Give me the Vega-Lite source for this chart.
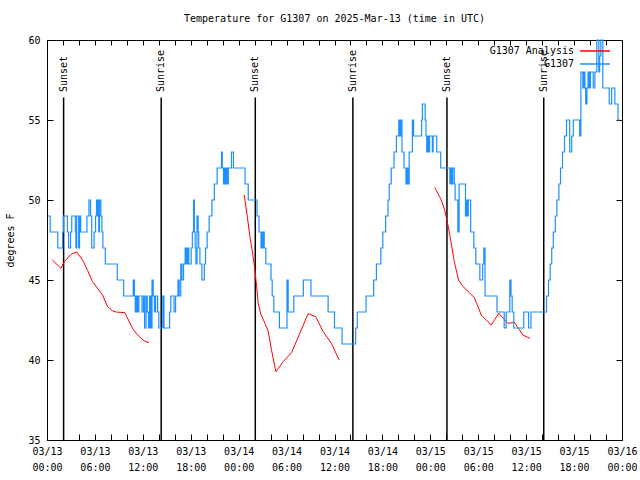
{
  "$schema": "https://vega.github.io/schema/vega-lite/v6.json",
  "width": 575,
  "height": 400,
  "autosize": {"type": "none"},
  "padding": {"left": 47, "top": 40, "right": 18, "bottom": 40},
  "background": "white",
  "title": {"text": "Temperature for G1307 on 2025-Mar-13 (time in UTC)", "font": "DejaVu Sans Mono", "fontSize": 10, "fontWeight": "normal", "offset": 11, "color": "black"},
  "config": {"view": {"stroke": "black", "strokeWidth": 1}, "font": "DejaVu Sans Mono"},
  "datasets": {
    "events": [
      {"h": 2.08, "label": "Sunset"},
      {"h": 14.3, "label": "Sunrise"},
      {"h": 26.08, "label": "Sunset"},
      {"h": 38.3, "label": "Sunrise"},
      {"h": 50.08, "label": "Sunset"},
      {"h": 62.2, "label": "Sunrise"}
    ],
    "analysis": [
      {"h": 0.67, "v": 46.25, "seg": 1}, {"h": 1.75, "v": 45.73, "seg": 1}, {"h": 2.17, "v": 46.15, "seg": 1}, {"h": 3.0, "v": 46.6, "seg": 1}, {"h": 3.71, "v": 46.75, "seg": 1}, {"h": 4.46, "v": 46.25, "seg": 1}, {"h": 5.08, "v": 45.6, "seg": 1}, {"h": 5.7, "v": 44.9, "seg": 1}, {"h": 6.33, "v": 44.48, "seg": 1}, {"h": 6.96, "v": 44.06, "seg": 1}, {"h": 7.58, "v": 43.33, "seg": 1}, {"h": 8.2, "v": 43.08, "seg": 1}, {"h": 8.62, "v": 43.0, "seg": 1}, {"h": 9.75, "v": 42.96, "seg": 1}, {"h": 10.29, "v": 42.4, "seg": 1}, {"h": 10.83, "v": 41.87, "seg": 1}, {"h": 11.54, "v": 41.46, "seg": 1}, {"h": 12.17, "v": 41.2, "seg": 1}, {"h": 12.79, "v": 41.08, "seg": 1},
      {"h": 24.7, "v": 50.31, "seg": 2}, {"h": 25.08, "v": 48.96, "seg": 2}, {"h": 25.41, "v": 47.7, "seg": 2}, {"h": 25.75, "v": 46.67, "seg": 2}, {"h": 26.04, "v": 45.6, "seg": 2}, {"h": 26.25, "v": 44.6, "seg": 2}, {"h": 26.45, "v": 43.54, "seg": 2}, {"h": 26.75, "v": 42.9, "seg": 2}, {"h": 27.3, "v": 42.29, "seg": 2}, {"h": 27.7, "v": 41.8, "seg": 2}, {"h": 28.12, "v": 40.6, "seg": 2}, {"h": 28.66, "v": 39.27, "seg": 2}, {"h": 29.58, "v": 39.9, "seg": 2}, {"h": 30.62, "v": 40.46, "seg": 2}, {"h": 31.66, "v": 41.67, "seg": 2}, {"h": 32.7, "v": 42.9, "seg": 2}, {"h": 33.66, "v": 42.7, "seg": 2}, {"h": 34.58, "v": 41.77, "seg": 2}, {"h": 35.62, "v": 41.04, "seg": 2}, {"h": 36.58, "v": 40.0, "seg": 2},
      {"h": 48.54, "v": 50.79, "seg": 3}, {"h": 49.29, "v": 50.1, "seg": 3}, {"h": 49.79, "v": 49.38, "seg": 3}, {"h": 50.12, "v": 48.65, "seg": 3}, {"h": 50.62, "v": 47.29, "seg": 3}, {"h": 51.04, "v": 46.04, "seg": 3}, {"h": 51.54, "v": 45.0, "seg": 3}, {"h": 52.08, "v": 44.6, "seg": 3}, {"h": 52.91, "v": 44.2, "seg": 3}, {"h": 53.5, "v": 43.9, "seg": 3}, {"h": 54.08, "v": 43.2, "seg": 3}, {"h": 54.37, "v": 42.81, "seg": 3}, {"h": 55.62, "v": 42.19, "seg": 3}, {"h": 56.58, "v": 42.92, "seg": 3}, {"h": 57.7, "v": 42.29, "seg": 3}, {"h": 58.54, "v": 42.35, "seg": 3}, {"h": 59.58, "v": 41.56, "seg": 3}, {"h": 60.5, "v": 41.35, "seg": 3}
    ],
    "obs": [
      {"h": 0.1, "v": 49}, {"h": 0.4, "v": 48}, {"h": 1.35, "v": 47}, {"h": 1.95, "v": 48}, {"h": 2.05, "v": 49}, {"h": 2.55, "v": 48}, {"h": 2.7, "v": 47}, {"h": 2.95, "v": 48}, {"h": 3.1, "v": 49}, {"h": 3.55, "v": 48}, {"h": 3.62, "v": 47}, {"h": 3.72, "v": 49}, {"h": 3.97, "v": 47}, {"h": 4.07, "v": 49}, {"h": 4.22, "v": 48}, {"h": 5.0, "v": 49}, {"h": 5.25, "v": 50}, {"h": 5.45, "v": 49}, {"h": 5.6, "v": 47}, {"h": 5.9, "v": 48}, {"h": 6.08, "v": 49}, {"h": 6.2, "v": 50}, {"h": 6.3, "v": 49}, {"h": 6.38, "v": 50}, {"h": 6.48, "v": 48}, {"h": 6.58, "v": 50}, {"h": 6.75, "v": 49}, {"h": 6.88, "v": 48}, {"h": 7.0, "v": 47}, {"h": 7.3, "v": 46}, {"h": 8.8, "v": 45}, {"h": 9.6, "v": 44}, {"h": 10.8, "v": 45}, {"h": 10.95, "v": 44}, {"h": 11.05, "v": 43}, {"h": 11.2, "v": 44}, {"h": 11.35, "v": 43}, {"h": 11.5, "v": 44}, {"h": 11.9, "v": 43}, {"h": 12.08, "v": 44}, {"h": 12.22, "v": 42}, {"h": 12.4, "v": 44}, {"h": 12.55, "v": 43}, {"h": 12.7, "v": 42}, {"h": 12.85, "v": 44}, {"h": 13.0, "v": 42}, {"h": 13.15, "v": 45}, {"h": 13.3, "v": 44}, {"h": 13.45, "v": 43}, {"h": 13.6, "v": 44}, {"h": 13.85, "v": 43}, {"h": 14.0, "v": 42}, {"h": 14.5, "v": 44}, {"h": 14.65, "v": 42}, {"h": 15.35, "v": 43}, {"h": 15.5, "v": 44}, {"h": 15.9, "v": 43}, {"h": 16.1, "v": 44}, {"h": 16.4, "v": 45}, {"h": 16.55, "v": 44}, {"h": 16.75, "v": 46}, {"h": 16.9, "v": 45}, {"h": 17.1, "v": 46}, {"h": 17.3, "v": 47}, {"h": 17.45, "v": 46}, {"h": 17.6, "v": 47}, {"h": 17.75, "v": 46},
      {"h": 18.05, "v": 47}, {"h": 18.2, "v": 48}, {"h": 18.35, "v": 50}, {"h": 18.45, "v": 48}, {"h": 18.55, "v": 47}, {"h": 18.65, "v": 46}, {"h": 18.78, "v": 49}, {"h": 18.92, "v": 48}, {"h": 19.0, "v": 47}, {"h": 19.15, "v": 46}, {"h": 19.4, "v": 45}, {"h": 19.7, "v": 46}, {"h": 19.85, "v": 47}, {"h": 20.05, "v": 48}, {"h": 20.3, "v": 49}, {"h": 20.65, "v": 50}, {"h": 20.95, "v": 51}, {"h": 21.3, "v": 52}, {"h": 21.85, "v": 53}, {"h": 21.95, "v": 52}, {"h": 22.1, "v": 51}, {"h": 22.2, "v": 52}, {"h": 22.3, "v": 51}, {"h": 22.4, "v": 52}, {"h": 22.55, "v": 51}, {"h": 22.7, "v": 52}, {"h": 23.1, "v": 53}, {"h": 23.35, "v": 52}, {"h": 24.8, "v": 51}, {"h": 25.2, "v": 50}, {"h": 26.3, "v": 49}, {"h": 26.55, "v": 48}, {"h": 26.8, "v": 47}, {"h": 26.9, "v": 48}, {"h": 27.0, "v": 47}, {"h": 27.1, "v": 48}, {"h": 27.2, "v": 47}, {"h": 27.4, "v": 46}, {"h": 28.05, "v": 45}, {"h": 28.2, "v": 44}, {"h": 28.4, "v": 43}, {"h": 29.1, "v": 42}, {"h": 30.05, "v": 45}, {"h": 30.2, "v": 43}, {"h": 30.9, "v": 44}, {"h": 32.1, "v": 45}, {"h": 33.05, "v": 44}, {"h": 35.2, "v": 43}, {"h": 36.0, "v": 42}, {"h": 36.95, "v": 41}, {"h": 38.65, "v": 42}, {"h": 38.85, "v": 43}, {"h": 39.95, "v": 44}, {"h": 40.9, "v": 45}, {"h": 41.25, "v": 46}, {"h": 41.8, "v": 47}, {"h": 42.05, "v": 48}, {"h": 42.4, "v": 49}, {"h": 42.7, "v": 50}, {"h": 42.85, "v": 51}, {"h": 43.1, "v": 52}, {"h": 43.45, "v": 53}, {"h": 43.75, "v": 54}, {"h": 44.05, "v": 55}, {"h": 44.2, "v": 54}, {"h": 44.3, "v": 55}, {"h": 44.45, "v": 53}, {"h": 44.7, "v": 52}, {"h": 44.95, "v": 51}, {"h": 45.1, "v": 52}, {"h": 45.2, "v": 51}, {"h": 45.35, "v": 53}, {"h": 45.75, "v": 55}, {"h": 45.9, "v": 54}, {"h": 46.9, "v": 55}, {"h": 47.0, "v": 56}, {"h": 47.35, "v": 55}, {"h": 47.45, "v": 54}, {"h": 47.55, "v": 53}, {"h": 47.7, "v": 54}, {"h": 47.8, "v": 53}, {"h": 47.9, "v": 54}, {"h": 48.25, "v": 53}, {"h": 48.35, "v": 54}, {"h": 48.8, "v": 53}, {"h": 49.3, "v": 52}, {"h": 50.45, "v": 51}, {"h": 50.55, "v": 52}, {"h": 50.7, "v": 51}, {"h": 50.8, "v": 52}, {"h": 51.0, "v": 51}, {"h": 51.1, "v": 50}, {"h": 51.45, "v": 48}, {"h": 51.6, "v": 51}, {"h": 52.4, "v": 49}, {"h": 52.55, "v": 50}, {"h": 52.65, "v": 49}, {"h": 52.75, "v": 50}, {"h": 53.05, "v": 48}, {"h": 53.45, "v": 47}, {"h": 53.7, "v": 46}, {"h": 54.2, "v": 45}, {"h": 54.55, "v": 46}, {"h": 54.7, "v": 47}, {"h": 54.85, "v": 44}, {"h": 56.35, "v": 43}, {"h": 57.25, "v": 42}, {"h": 57.5, "v": 43}, {"h": 57.95, "v": 45}, {"h": 58.1, "v": 44}, {"h": 58.25, "v": 43}, {"h": 58.45, "v": 42}, {"h": 59.7, "v": 43}, {"h": 60.3, "v": 42}, {"h": 60.6, "v": 43}, {"h": 62.55, "v": 44}, {"h": 62.8, "v": 45}, {"h": 63.0, "v": 46}, {"h": 63.2, "v": 47}, {"h": 63.4, "v": 48}, {"h": 63.65, "v": 49}, {"h": 63.85, "v": 50}, {"h": 64.1, "v": 51}, {"h": 64.3, "v": 52}, {"h": 64.55, "v": 53}, {"h": 64.8, "v": 54}, {"h": 65.05, "v": 55}, {"h": 65.45, "v": 53}, {"h": 65.7, "v": 54}, {"h": 65.9, "v": 55}, {"h": 66.7, "v": 54}, {"h": 66.85, "v": 58}, {"h": 67.1, "v": 57}, {"h": 67.2, "v": 58}, {"h": 67.35, "v": 57}, {"h": 67.45, "v": 56}, {"h": 67.6, "v": 57}, {"h": 67.75, "v": 58}, {"h": 67.9, "v": 57}, {"h": 68.05, "v": 58}, {"h": 68.4, "v": 57}, {"h": 68.6, "v": 58}, {"h": 68.85, "v": 60}, {"h": 69.1, "v": 58}, {"h": 69.2, "v": 59}, {"h": 69.35, "v": 60}, {"h": 69.6, "v": 57}, {"h": 70.4, "v": 56}, {"h": 70.7, "v": 57}, {"h": 71.1, "v": 56}, {"h": 71.5, "v": 55}, {"h": 71.75, "v": 55}
    ]
  },
  "layer": [
    {
      "data": {"name": "events"},
      "mark": {"type": "rule", "color": "black", "strokeWidth": 1.5},
      "encoding": {
        "x": {"field": "h", "type": "quantitative", "scale": {"domain": [0, 72], "nice": false, "zero": false},
          "axis": {"orient": "bottom", "values": [0,2,4,6,8,10,12,14,16,18,20,22,24,26,28,30,32,34,36,38,40,42,44,46,48,50,52,54,56,58,60,62,64,66,68,70,72],
            "labelExpr": "datum.value % 6 == 0 ? ['03/' + (13 + floor(datum.value / 24)), (datum.value % 24 < 10 ? '0' : '') + (datum.value % 24) + ':00'] : ''",
            "tickSize": -6, "tickColor": "black", "domain": false, "grid": false, "title": null,
            "labelFont": "DejaVu Sans Mono", "labelFontSize": 10, "labelColor": "black", "labelPadding": 12, "labelLineHeight": 16,
            "labelOverlap": false, "labelFlush": false, "labelBaseline": "top"}},
        "y": {"datum": 56.4, "type": "quantitative", "scale": {"domain": [35, 60], "nice": false, "zero": false},
          "axis": {"orient": "left", "values": [35, 40, 45, 50, 55, 60], "tickSize": -6, "tickColor": "black", "domain": false, "grid": false,
            "title": "degrees F", "titleFont": "DejaVu Sans Mono", "titleFontSize": 10, "titleFontWeight": "normal", "titleColor": "black", "titlePadding": 12,
            "labelFont": "DejaVu Sans Mono", "labelFontSize": 10, "labelColor": "black", "labelPadding": 13, "labelFlush": false}},
        "y2": {"datum": 35}
      }
    },
    {
      "data": {"name": "events"},
      "mark": {"type": "text", "angle": 270, "align": "left", "baseline": "middle", "font": "DejaVu Sans Mono", "fontSize": 10, "color": "black"},
      "encoding": {
        "x": {"field": "h", "type": "quantitative",
          "axis": {"orient": "top", "values": [0,2,4,6,8,10,12,14,16,18,20,22,24,26,28,30,32,34,36,38,40,42,44,46,48,50,52,54,56,58,60,62,64,66,68,70,72],
            "labels": false, "tickSize": -5, "tickColor": "black", "domain": false, "grid": false, "title": null}},
        "y": {"datum": 56.75, "type": "quantitative",
          "axis": {"orient": "right", "values": [35, 40, 45, 50, 55, 60], "labels": false, "tickSize": -6, "tickColor": "black", "domain": false, "grid": false, "title": null}},
        "text": {"field": "label"}
      }
    },
    {
      "data": {"name": "analysis"},
      "mark": {"type": "line", "strokeWidth": 1, "interpolate": "linear"},
      "encoding": {
        "x": {"field": "h", "type": "quantitative", "axis": null},
        "y": {"field": "v", "type": "quantitative", "axis": null},
        "detail": {"field": "seg"},
        "color": {"datum": "G1307 Analysis", "type": "nominal",
          "scale": {"domain": ["G1307 Analysis"], "range": ["#ff0000"]},
          "legend": {"orient": "none", "legendX": 532, "legendY": -5, "title": null, "symbolType": "stroke", "symbolSize": 900, "symbolStrokeWidth": 1.5,
            "labelFont": "DejaVu Sans Mono", "labelFontSize": 10, "labelColor": "black", "labelAlign": "right", "labelOffset": -37, "padding": 0}}
      }
    },
    {
      "data": {"name": "obs"},
      "mark": {"type": "line", "strokeWidth": 1.2, "interpolate": "step-after"},
      "encoding": {
        "x": {"field": "h", "type": "quantitative", "axis": null},
        "y": {"field": "v", "type": "quantitative", "axis": null},
        "stroke": {"datum": "G1307", "type": "nominal",
          "scale": {"domain": ["G1307"], "range": ["#1e90ff"]},
          "legend": {"orient": "none", "legendX": 532, "legendY": 8, "title": null, "symbolType": "stroke", "symbolSize": 900, "symbolStrokeWidth": 1.5,
            "labelFont": "DejaVu Sans Mono", "labelFontSize": 10, "labelColor": "black", "labelAlign": "right", "labelOffset": -37, "padding": 0}}
      }
    }
  ],
  "resolve": {"axis": {"x": "independent", "y": "independent"}}
}
